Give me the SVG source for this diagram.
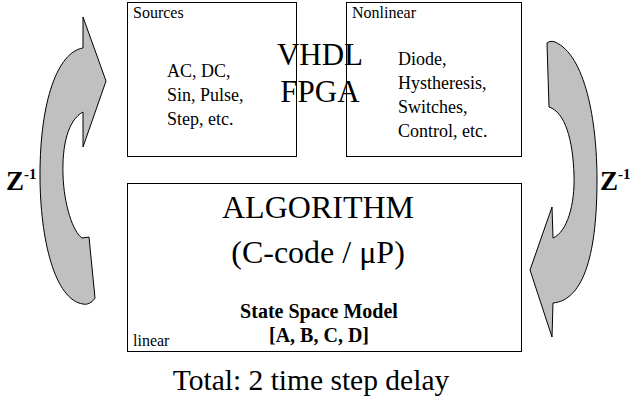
<svg xmlns="http://www.w3.org/2000/svg" width="631" height="402" viewBox="0 0 631 402">
<style>
.box{fill:#fff;stroke:#000;stroke-width:1}
.arr{fill:#c0c0c0;stroke:#000;stroke-width:1}
.lbl{font-size:16px}
.body{font-size:18px}
.big{font-size:31px}
.title{font-size:32px}
.bold{font-weight:bold}
</style>
<rect width="631" height="402" fill="#fff"/>
<g font-family="'Liberation Serif', 'DejaVu Serif', 'Times New Roman', serif" fill="#000">
<g id="sources">
<rect class="box" x="127.5" y="2.5" width="169" height="154"/>
<text class="lbl" x="133" y="18">Sources</text>
<text class="body" x="167" y="77">AC, DC,</text>
<text class="body" x="167" y="101">Sin, Pulse,</text>
<text class="body" x="167" y="125">Step, etc.</text>
</g>
<g id="nonlinear">
<rect class="box" x="346.5" y="2.5" width="175" height="154"/>
<text class="lbl" x="352" y="18">Nonlinear</text>
<text class="body" x="398" y="65">Diode,</text>
<text class="body" x="398" y="89">Hystheresis,</text>
<text class="body" x="398" y="113">Switches,</text>
<text class="body" x="398" y="137">Control, etc.</text>
</g>
<g id="vhdl">
<text class="big" x="320" y="65" text-anchor="middle">VHDL</text>
<text class="big" x="320" y="102" text-anchor="middle">FPGA</text>
</g>
<g id="algorithm">
<rect class="box" x="127.5" y="183.5" width="394" height="168"/>
<text class="title" x="318" y="218" text-anchor="middle">ALGORITHM</text>
<text class="title" x="318" y="263" text-anchor="middle" font-size="33">(C-code / μP)</text>
<text class="bold" x="319" y="318" text-anchor="middle" font-size="20">State Space Model</text>
<text class="bold" x="319" y="342" text-anchor="middle" font-size="20">[A, B, C, D]</text>
<text class="lbl" x="133" y="346" font-size="17">linear</text>
</g>
<g id="connectors">
<path class="arr" d="M83,48 L83,17 L106,81 L83,147 L83,112 C68,120 62,145 63,175 C64,205 73,232 82,238 L89,237 L95,298 C92,303 87,305 83,304 C55,300 40,240 40,175 C40,100 58,52 83,48 Z"/>
<path class="arr" d="M553,303 L552,337 L530,270 L552,207 L553,238 C567,232 575,205 574,175 C573,140 565,112 549,107 L547,43 C549,41 553,41 555,42 C585,55 597,120 597,180 C597,250 585,300 553,303 Z"/>
</g>
<g id="z-left">
<text class="bold" x="6" y="190" font-size="27">Z<tspan dy="-11" font-size="15">-1</tspan></text>
</g>
<g id="z-right">
<text class="bold" x="600" y="190" font-size="27">Z<tspan dy="-11" font-size="15">-1</tspan></text>
</g>
<g id="total">
<text x="311" y="390" text-anchor="middle" font-size="29.5">Total: 2 time step delay</text>
</g>
</g>
</svg>
